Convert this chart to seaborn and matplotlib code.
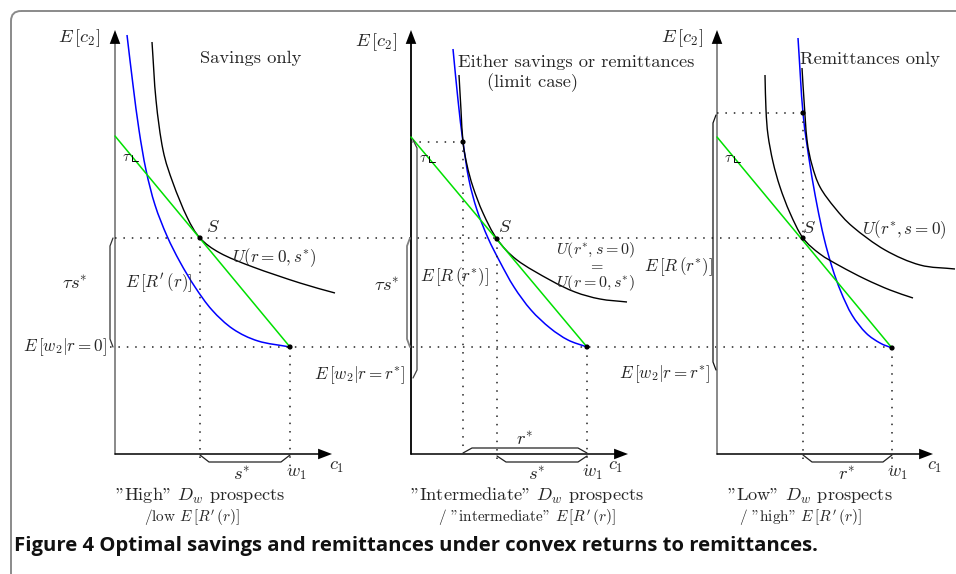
import matplotlib
matplotlib.use("Agg")
import matplotlib.pyplot as plt
from matplotlib.patches import FancyBboxPatch, PathPatch
from matplotlib.path import Path
import numpy as np
import seaborn as sns

# figure size in pixels and the origin of each panel (pixel position of c1/E[c2] axes crossing)
W, H = 956, 574
OX = [115, 411, 717]
OY = 454

# ---- panel 1: savings only ----
blue1_x = [12, 18, 24, 31, 40, 52, 65, 80, 97, 118, 143, 175]
blue1_y = [419, 369, 324, 284, 249, 218, 192, 167, 144, 125, 113, 107]
util1_x = [37, 41, 48, 58, 72, 85, 105, 138, 185, 220]
util1_y = [412, 354, 304, 271, 237, 216, 201, 187, 171, 161]
budget1_x = [0, 175]
budget1_y = [318, 107]
dots1_x = [85, 175]
dots1_y = [216, 107]

# ---- panel 2: limit case ----
blue2_x = [42, 47, 52, 58, 66, 77, 89, 103, 120, 139, 157, 176]
blue2_y = [405, 354, 312, 274, 244, 216, 192, 167, 144, 126, 114, 107]
util2_x = [48, 50, 52, 56, 62, 72, 86, 106, 139, 164, 189, 216]
util2_y = [379, 344, 312, 289, 267, 241, 215, 194, 174, 162, 155, 152]
budget2_x = [0, 176]
budget2_y = [317, 107]
dots2_x = [52, 86, 176]
dots2_y = [312, 215, 107]

# ---- panel 3: remittances only ----
blue3_x = [81, 86, 93, 100, 107, 115, 124, 135, 149, 163, 175]
blue3_y = [416, 341, 289, 249, 216, 187, 162, 139, 121, 111, 106]
util3_x = [48, 49, 51, 56, 63, 73, 86, 103, 123, 148, 173, 196]
util3_y = [379, 344, 319, 292, 267, 241, 216, 200, 188, 175, 164, 156]
util3b_x = [85, 87, 90, 95, 103, 118, 136, 168, 203, 238]
util3b_y = [386, 354, 314, 289, 267, 246, 227, 204, 189, 185]
budget3_x = [0, 175]
budget3_y = [317, 106]
dots3_x = [86, 86, 175]
dots3_y = [341, 216, 106]

titles = ["Savings only", "Either savings or remittances", "Remittances only"]
bottom1 = ['"High" $D_w$ prospects', '"Intermediate" $D_w$ prospects', '"Low" $D_w$ prospects']
bottom2 = [r"/low $E\,[R'\,(r)]$", r'/ "intermediate" $E\,[R' + "'" + r'\,(r)]$',
           r'/ "high" $E\,[R' + "'" + r'\,(r)]$']
caption = "Figure 4 Optimal savings and remittances under convex returns to remittances."

BLUE = "#0000ff"
GREEN = "#00e000"
GRAY = "#808080"

sns.set_theme(style="white")
plt.rcParams["font.family"] = ["cmr10", "DejaVu Serif"]
plt.rcParams["mathtext.fontset"] = "cm"

fig = plt.figure(figsize=(W / 100, H / 100), dpi=100)

# background: frame and caption in pixel coordinates
bg = fig.add_axes([0, 0, 1, 1])
bg.set_xlim(0, W)
bg.set_ylim(H, 0)
bg.axis("off")
bg.add_patch(FancyBboxPatch((11, 11), 1100, 700, boxstyle="round,pad=0,rounding_size=10",
                            ec="#8a8a8a", fc="none", lw=1.4))
bg.text(14, 546, caption, ha="left", va="center", fontsize=14.6, fontweight="bold",
        family=["Open Sans", "DejaVu Sans"], color="#111111")

LBL = 12.3   # small math labels
BIG = 13.3   # titles / axis names


def panel(ox):
    ax = fig.add_axes([0, 0, 1, 1])
    ax.set_xlim(-ox, W - ox)
    ax.set_ylim(OY - H, OY)
    ax.set_facecolor("none")
    ax.axis("off")
    return ax


def smooth(ax, xs, ys, color, lw=1.0):
    # smooth curve through the read points (Catmull-Rom drawn as cubic Bezier)
    p = np.column_stack([xs, ys]).astype(float)
    ext = np.vstack([2 * p[0] - p[1], p, 2 * p[-1] - p[-2]])
    verts, codes = [p[0]], [Path.MOVETO]
    for i in range(1, len(ext) - 2):
        c1 = ext[i] + (ext[i + 1] - ext[i - 1]) / 6
        c2 = ext[i + 1] - (ext[i + 2] - ext[i]) / 6
        verts += [c1, c2, ext[i + 1]]
        codes += [Path.CURVE4] * 3
    ax.add_patch(PathPatch(Path(verts, codes), fc="none", ec=color, lw=lw))


def axes_arrows(ax, ycolor, ytip=424, xtip=217):
    ax.plot([0, 0], [0, ytip - 12], color=ycolor, lw=1.3)
    ax.plot([0, xtip - 12], [0, 0], color="black", lw=1.1)
    head = dict(arrowstyle="-|>,head_length=1.0,head_width=0.38", color="black",
                lw=0, shrinkA=0, shrinkB=0, mutation_scale=10)
    ax.annotate("", xy=(0, ytip), xytext=(0, ytip - 14), arrowprops=head)
    ax.annotate("", xy=(xtip, 0), xytext=(xtip - 14, 0), arrowprops=head)


def dotted(ax, xs, ys):
    ax.plot(xs, ys, color="#222222", lw=1.1, ls=(0, (1, 4.5)), clip_on=False)


def hbrace(ax, x0, x1, y, d, color="#222222"):
    ax.plot([x0, x0 + 9, x1 - 9, x1], [y, y + d, y + d, y], color=color, lw=0.9)


def vbrace(ax, y0, y1, x, d, color="#222222", lw=0.9):
    ax.plot([x, x + d, x + d, x], [y0, y0 - 8, y1 + 8, y1], color=color, lw=lw)


def tau_mark(ax, x, y):
    ax.text(x, y, r"$\tau$", ha="center", va="center", fontsize=11)
    ax.plot([x + 5, x + 5, x + 11], [y + 2, y - 4, y - 4], color="black", lw=0.7)


def curves(ax, bx, by, ux, uy, gx, gy, px, py):
    sns.lineplot(x=gx, y=gy, ax=ax, color=GREEN, lw=1.1, sort=False, estimator=None)
    smooth(ax, bx, by, BLUE, lw=1.1)
    smooth(ax, ux, uy, "black", lw=1.0)
    sns.scatterplot(x=px, y=py, ax=ax, color="black", s=14, edgecolor="none", zorder=5)


def bottom_labels(ax, x1, x2, k):
    ax.text(x1, -42, bottom1[k], ha="center", va="center", fontsize=13.2)
    ax.text(x2, -64, bottom2[k], ha="center", va="center", fontsize=11)


# ---------------- panel 1 ----------------
ax1 = panel(OX[0])
axes_arrows(ax1, GRAY)
curves(ax1, blue1_x, blue1_y, util1_x, util1_y, budget1_x, budget1_y, dots1_x, dots1_y)
# dotted guides crossing all three panels
dotted(ax1, [0, OX[2] - OX[0] + dots3_x[1]], [dots1_y[0]] * 2)
dotted(ax1, [-5, OX[2] - OX[0] + dots3_x[2]], [dots1_y[1]] * 2)
dotted(ax1, [dots1_x[0]] * 2, [dots1_y[0], -5])
dotted(ax1, [dots1_x[1]] * 2, [dots1_y[1], -14])
hbrace(ax1, dots1_x[0], dots1_x[1], -1, -7)
vbrace(ax1, dots1_y[0], dots1_y[1], -2, -3, color="#333333")
ax1.text(-15, 416, r"$E\,[c_2]$", ha="right", va="center", fontsize=BIG)
ax1.text(136, 396, titles[0], ha="center", va="center", fontsize=BIG)
tau_mark(ax1, 12, 297)
ax1.text(98, 227, r"$S$", ha="center", va="center", fontsize=BIG)
ax1.text(117, 196, r"$U(r=0,s^{*})$", ha="left", va="center", fontsize=LBL)
ax1.text(10, 171, r"$E\,[R'\,(r)]$", ha="left", va="center", fontsize=LBL)
ax1.text(-40, 171, r"$\tau s^{*}$", ha="center", va="center", fontsize=BIG)
ax1.text(-8, 107, r"$E\,[w_2|r=0]$", ha="right", va="center", fontsize=LBL)
ax1.text(127, -20, r"$s^{*}$", ha="center", va="center", fontsize=BIG)
ax1.text(181, -20, r"$w_1$", ha="center", va="center", fontsize=BIG)
ax1.text(222, -13, r"$c_1$", ha="center", va="center", fontsize=BIG)
bottom_labels(ax1, 85, 77, 0)

# ---------------- panel 2 ----------------
ax2 = panel(OX[1])
axes_arrows(ax2, "black")
curves(ax2, blue2_x, blue2_y, util2_x, util2_y, budget2_x, budget2_y, dots2_x, dots2_y)
dotted(ax2, [0, dots2_x[0]], [dots2_y[0]] * 2)
dotted(ax2, [dots2_x[0]] * 2, [dots2_y[0], 2])
dotted(ax2, [dots2_x[1]] * 2, [dots2_y[1], -5])
dotted(ax2, [dots2_x[2]] * 2, [dots2_y[2], -14])
hbrace(ax2, dots2_x[0], dots2_x[2], 1, 5)
hbrace(ax2, dots2_x[1], dots2_x[2], -2, -6)
vbrace(ax2, dots1_y[0], dots2_y[2], -1, -3, color=GRAY, lw=1.3)
vbrace(ax2, budget2_y[0] - 3, 76, 2, 4, color="#444444")
ax2.text(-14, 412, r"$E\,[c_2]$", ha="right", va="center", fontsize=BIG)
ax2.text(47, 392, titles[1], ha="left", va="center", fontsize=BIG)
ax2.text(122, 371, "(limit case)", ha="center", va="center", fontsize=BIG)
tau_mark(ax2, 13, 296)
ax2.text(94, 227, r"$S$", ha="center", va="center", fontsize=BIG)
ax2.text(9, 177, r"$E\,[R\,(r^{*})]$", ha="left", va="center", fontsize=LBL)
ax2.text(-24, 169, r"$\tau s^{*}$", ha="center", va="center", fontsize=BIG)
ax2.text(-6, 79, r"$E\,[w_2|r=r^{*}]$", ha="right", va="center", fontsize=LBL)
ax2.text(185, 204, r"$U(r^{*},s=0)$", ha="center", va="center", fontsize=11.5)
ax2.text(185, 189, r"$=$", ha="center", va="center", fontsize=11.5)
ax2.text(185, 171, r"$U(r=0,s^{*})$", ha="center", va="center", fontsize=11.5)
ax2.text(114, 15, r"$r^{*}$", ha="center", va="center", fontsize=BIG)
ax2.text(126, -20, r"$s^{*}$", ha="center", va="center", fontsize=BIG)
ax2.text(181, -20, r"$w_1$", ha="center", va="center", fontsize=BIG)
ax2.text(205, -13, r"$c_1$", ha="center", va="center", fontsize=BIG)
bottom_labels(ax2, 116, 116, 1)

# ---------------- panel 3 ----------------
ax3 = panel(OX[2])
axes_arrows(ax3, GRAY, xtip=216)
curves(ax3, blue3_x, blue3_y, util3_x, util3_y, budget3_x, budget3_y, dots3_x, dots3_y)
smooth(ax3, util3b_x, util3b_y, "black", lw=1.0)
dotted(ax3, [0, dots3_x[0]], [dots3_y[0]] * 2)
dotted(ax3, [dots3_x[0]] * 2, [dots3_y[0], -5])
dotted(ax3, [dots3_x[2]] * 2, [dots3_y[2], -14])
hbrace(ax3, dots3_x[0], dots3_x[2], -1, -7)
vbrace(ax3, dots3_y[0] - 2, 84, -1, -3, color="#111111")
ax3.text(-14, 416, r"$E\,[c_2]$", ha="right", va="center", fontsize=BIG)
ax3.text(83, 395, titles[2], ha="left", va="center", fontsize=BIG)
tau_mark(ax3, 12, 296)
ax3.text(92, 226, r"$S$", ha="center", va="center", fontsize=BIG)
ax3.text(145, 224, r"$U(r^{*},s=0)$", ha="left", va="center", fontsize=LBL)
ax3.text(-4, 187, r"$E\,[R\,(r^{*})]$", ha="right", va="center", fontsize=LBL)
ax3.text(-7, 80, r"$E\,[w_2|r=r^{*}]$", ha="right", va="center", fontsize=LBL)
ax3.text(130, -20, r"$r^{*}$", ha="center", va="center", fontsize=BIG)
ax3.text(180, -20, r"$w_1$", ha="center", va="center", fontsize=BIG)
ax3.text(218, -13, r"$c_1$", ha="center", va="center", fontsize=BIG)
bottom_labels(ax3, 93, 83, 2)

fig.savefig("out.png", dpi=100)
